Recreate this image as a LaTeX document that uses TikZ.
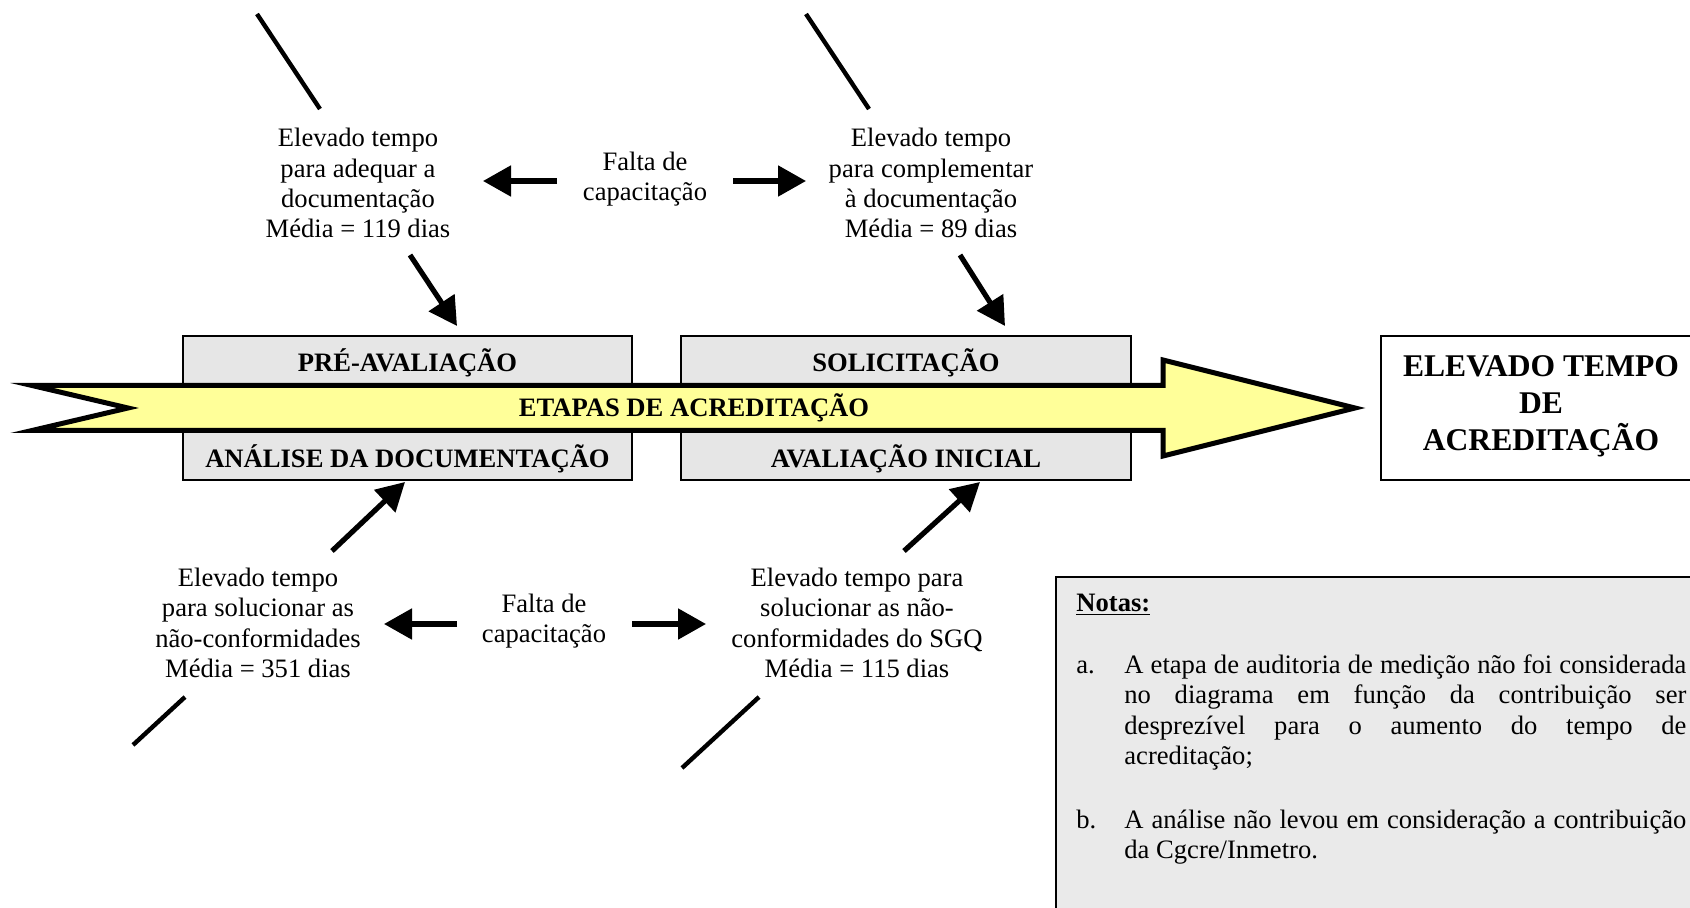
\documentclass[tikz,border=0pt]{standalone}
\usepackage{fontspec}
\setmainfont{Liberation Serif}
\usetikzlibrary{arrows.meta}
\definecolor{bandyellow}{HTML}{FFFF99}
\definecolor{stagegray}{HTML}{E6E6E6}
\definecolor{notegray}{HTML}{EAEAEA}

\begin{document}
\begin{tikzpicture}[x=0.5pt,y=-0.5pt,
  causetext/.style={inner sep=0pt, align=center, anchor=base,
    font=\fontsize{13.3}{15.2}\selectfont},
  stagelabel/.style={inner sep=0pt, anchor=base,
    font=\fontsize{13.3}{15.2}\selectfont\bfseries},
  stagebox/.style={fill=stagegray, draw=black, line width=0.75pt},
  plainbox/.style={fill=white, draw=black, line width=0.75pt},
  notebox/.style={fill=notegray, draw=black, line width=0.75pt},
  notetext/.style={inner sep=0pt, anchor=base west,
    font=\fontsize{13.3}{15.3}\selectfont},
  bone/.style={line width=2.2pt},
  feeder/.style={line width=2.6pt, -{Triangle[length=14pt,width=15pt]}},
  spine/.style={line width=2.5pt, fill=bandyellow, line join=miter, miter limit=25}
]
\useasboundingbox (0,0) rectangle (1690,908);
\clip (0,0) rectangle (1690,908);

% stage boxes (the band passes over their middle)
\draw[stagebox] (183,336) rectangle (632,480);
\draw[stagebox] (681,336) rectangle (1131,480);

% effect box and notes box, running off the right edge
\draw[plainbox] (1381,336) rectangle (1702,480);
\draw[notebox] (1056,577) rectangle (1702,915);

% main band arrow with forked tail
\draw[spine] (32,385.5) -- (1163,385.5) -- (1163,360) -- (1355,408)
  -- (1163,456) -- (1163,430.5) -- (32,430.5) -- (128,408) -- cycle;

% stage labels
\node[stagelabel] (pre) at (407.5,372) {PRÉ-AVALIAÇÃO};
\node[stagelabel] (ana) at (407.5,467) {ANÁLISE DA DOCUMENTAÇÃO};
\node[stagelabel] (sol) at (906,372) {SOLICITAÇÃO};
\node[stagelabel] (aval) at (906,467) {AVALIAÇÃO INICIAL};
\node[stagelabel] (band) at (694,417) {ETAPAS DE ACREDITAÇÃO};

% effect (base anchor sits on the last line)
\node[inner sep=0pt, anchor=base, align=center,
  font=\fontsize{15.8}{18.5}\selectfont\bfseries] (effect) at (1541,450.5)
  {ELEVADO TEMPO\\DE\\ACREDITAÇÃO};

% causes (base anchor sits on the last line)
\node[causetext] (c1) at (358,238)
  {Elevado tempo\\para adequar a\\documentação\\Média = 119 dias};
\node[causetext] (f1) at (645,200.5) {Falta de\\capacitação};
\node[causetext] (c2) at (931,238)
  {Elevado tempo\\para complementar\\à documentação\\Média = 89 dias};
\node[causetext] (c3) at (258,677.5)
  {Elevado tempo\\para solucionar as\\não-conformidades\\Média = 351 dias};
\node[causetext] (f2) at (544,642.5) {Falta de\\capacitação};
\node[causetext] (c4) at (857,677.5)
  {Elevado tempo para\\solucionar as não-\\conformidades do SGQ\\Média = 115 dias};

% bone ends and arrow ends
\coordinate (b1a) at (257,14);   \coordinate (b1b) at (320,109);
\coordinate (b2a) at (806,14);   \coordinate (b2b) at (869,109);
\coordinate (b3a) at (185,697);  \coordinate (b3b) at (133,745);
\coordinate (b4a) at (759,697);  \coordinate (b4b) at (682,768);

\coordinate (a1s) at (410,255);  \coordinate (a1e) at (457,326);
\coordinate (a2s) at (960,255);  \coordinate (a2e) at (1005,326);
\coordinate (a3s) at (332,551);  \coordinate (a3e) at (405,482);
\coordinate (a4s) at (904,551);  \coordinate (a4e) at (980,482);

\coordinate (h1s) at (557,181);  \coordinate (h1e) at (483,181);
\coordinate (h2s) at (733,181);  \coordinate (h2e) at (806,181);
\coordinate (h3s) at (457,624);  \coordinate (h3e) at (384,624);
\coordinate (h4s) at (632,624);  \coordinate (h4e) at (706,624);

\draw[bone] (b1a) -- (b1b);
\draw[bone] (b2a) -- (b2b);
\draw[bone] (b3a) -- (b3b);
\draw[bone] (b4a) -- (b4b);

\draw[feeder] (a1s) -- (a1e);
\draw[feeder] (a2s) -- (a2e);
\draw[feeder] (a3s) -- (a3e);
\draw[feeder] (a4s) -- (a4e);

\draw[feeder] (h1s) -- (h1e);
\draw[feeder] (h2s) -- (h2e);
\draw[feeder] (h3s) -- (h3e);
\draw[feeder] (h4s) -- (h4e);

% notes
\node[notetext, font=\fontsize{13.3}{15.3}\selectfont\bfseries] (nt) at (1076,611)
  {\underline{Notas:}};
\node[notetext] (na) at (1076,673) {a.};
\node[notetext, text width=281pt, align=justify] (nat) at (1124,673)
  {A etapa de auditoria de medição não foi considerada\linebreak
   no diagrama em função da contribuição ser\linebreak
   desprezível para o aumento do tempo de\linebreak
   acreditação;};
\node[notetext] (nb) at (1076,828) {b.};
\node[notetext, text width=281pt, align=justify] (nbt) at (1124,828)
  {A análise não levou em consideração a contribuição\linebreak
   da Cgcre/Inmetro.};
\end{tikzpicture}
\end{document}
